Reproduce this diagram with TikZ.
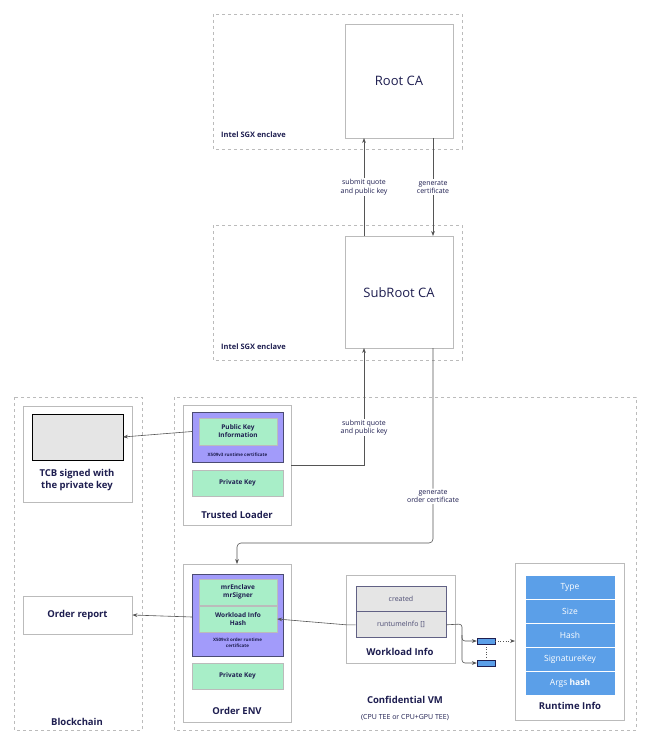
\documentclass[tikz,border=0pt]{standalone}
\usepackage{fontspec}
\setmainfont{Open Sans}
\usetikzlibrary{positioning, arrows.meta}
\definecolor{ink}{HTML}{1E1E50}
\definecolor{line}{HTML}{555555}
\definecolor{purp}{HTML}{A29BFA}
\definecolor{mint}{HTML}{A8EEC8}
\definecolor{sky}{HTML}{5B9FE8}
\definecolor{frame}{HTML}{BBBBBB}

\begin{document}
\begin{tikzpicture}[x=1pt,y=-1pt,font=\fontsize{8}{9.5}\selectfont\color{ink},
  encl/.style={draw=frame,dashed,thick},
  card/.style={draw=frame,thick,fill=white},
  cert/.style={draw=ink!80,thick,fill=purp},
  key/.style={draw=frame,fill=mint,font=\fontsize{6.5}{8}\selectfont\bfseries\color{ink},align=center},
  row/.style={draw=white,fill=sky,font=\fontsize{8.5}{10}\selectfont\color{white}},
  title/.style={font=\fontsize{9.5}{11.5}\selectfont\bfseries\color{ink},align=center},
  lbl/.style={fill=white,font=\fontsize{7}{8.5}\selectfont\color{ink},align=center},
  arr/.style={draw=line,semithick,-{Stealth[length=5pt]}}]
\useasboundingbox (0,0) rectangle (648,746);
\tikzset{every node/.append style={inner sep=1pt}}

% enclaves
\draw[encl] (213,14) rectangle (462,149);
\draw[card] (345,24) rectangle (453,138);
\node (root) at (399,81) {\fontsize{13}{15}\selectfont Root CA};
\coordinate (rootS) at (399,138);
\node[title,anchor=west] at (220,135) {\fontsize{7.5}{9}\selectfont Intel SGX enclave};
\draw[encl] (213,225) rectangle (462,360);
\draw[card] (345,236) rectangle (453,348);
\node (sub) at (399,293) {\fontsize{13}{15}\selectfont SubRoot CA};
\node[title,anchor=west] at (220,347) {\fontsize{7.5}{9}\selectfont Intel SGX enclave};

\draw[arr] (364,236) -- node[lbl] {submit quote\\and public key} (364,138);
\draw[arr] (433,138) -- node[lbl] {generate\\certificate} (433,236);

% blockchain
\draw[encl] (14,397) rectangle (142,730);
\draw[card] (23,406) rectangle (132,502);
\draw[thick,fill=gray!20] (32,414) rectangle (123,460);
\coordinate (tcb) at (123,437);
\node[title] at (77,480) {TCB signed with\\the private key};
\node[card,title,minimum width=109pt,minimum height=38pt] (report) at (77.5,615) {Order report};
\node[title] at (77,722) {Blockchain};

% confidential VM
\draw[encl] (174,397) rectangle (636,730);
\node[title] at (405,700) {Confidential VM};
\node[font=\fontsize{7}{8}\selectfont\color{ink}] at (405,718) {(CPU TEE or CPU+GPU TEE)};

% trusted loader
\draw[card] (183,405) rectangle (291,525);
\draw[cert] (192,412) rectangle (283,462);
\node[key,minimum width=78pt,minimum height=27pt] (pki) at (238,431.5) {Public Key\\Information};
\node[font=\fontsize{4.5}{5}\selectfont\bfseries\color{ink}] at (237.5,455) {X509v3 runtime certificate};
\node[key,minimum width=91pt,minimum height=26pt] (pk1) at (237.5,483) {Private Key};
\node[title] (tl) at (237,515) {Trusted Loader};

% order env
\draw[card] (183,564) rectangle (291,722);
\draw[cert] (192,574) rectangle (283,656);
\node[key,minimum width=78pt,minimum height=26pt] (mre) at (238,592) {mrEnclave\\mrSigner};
\node[key,minimum width=78pt,minimum height=26pt] (wih) at (238,619) {Workload Info\\Hash};
\node[font=\fontsize{4.5}{5.5}\selectfont\bfseries\color{ink},align=center] at (237.5,643) {X509v3 order runtime\\certificate};
\node[key,minimum width=91pt,minimum height=26pt] (pk2) at (237.5,676) {Private Key};
\node[title] at (237,711) {Order ENV};

% workload info
\draw[card] (346,575) rectangle (455,663);
\node[draw=ink!70,thick,fill=gray!20,minimum width=90pt,minimum height=25pt,font=\fontsize{7}{8}\selectfont\color{ink!80}] (created) at (401,598.5) {created};
\node[draw=ink!70,thick,fill=gray!20,minimum width=90pt,minimum height=26pt,font=\fontsize{7}{8}\selectfont\color{ink!80},below=0pt of created] (rinfo) {runtumeInfo []};
\node[title] at (400,652) {Workload Info};

% runtime info
\draw[card] (515,563) rectangle (624,720);
\foreach \t [count=\i] in {Type,Size,Hash,SignatureKey,{Args \textbf{hash}}}
  \node[row,minimum width=90pt,minimum height=24pt] (r\i) at (570,575+24*\i-12) {\t};
\node[title] at (570,706) {Runtime Info};

\node[draw=ink,fill=sky,minimum width=18pt,minimum height=6pt,inner sep=0pt] (e1) at (486,641) {};
\node[draw=ink,fill=sky,minimum width=18pt,minimum height=6pt,inner sep=0pt] (e2) at (486,663) {};
\draw[dotted,line] (486,647) -- (486,657);
\coordinate (rt) at (515,641);

% connectors
\draw[arr] (pki.west -| 192,0) -- (tcb);
\draw[arr] (192,617) -- (report.east);
\draw[arr] (rinfo.west) -- (rinfo.west -| 346,0) -- (wih.east);
\draw[arr,rounded corners=3pt] (rinfo.east) -- (462,624) -- (462,641) -- (e1.west);
\draw[arr,rounded corners=3pt] (462,635) -- (462,663) -- (e2.west);
\draw[arr,dotted] (e1.east) -- (rt);
\draw[arr] (291,465) -- (364,465) -- node[lbl,pos=0.32] {submit quote\\and public key} (364,348);
\draw[arr,rounded corners=4pt] (433,348) -- node[lbl,pos=0.76] {generate\\order certificate} (433,543) -- (237,543) -- (237,564);
\end{tikzpicture}
\end{document}
